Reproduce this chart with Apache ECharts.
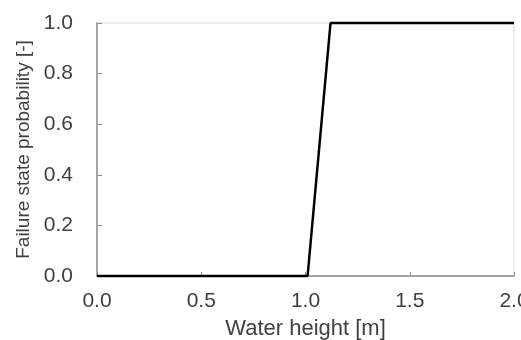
<!DOCTYPE html>
<html>
<head>
<meta charset="utf-8">
<script src="https://cdn.jsdelivr.net/npm/echarts@6/dist/echarts.min.js"></script>
<style>html,body{margin:0;padding:0;background:#fff}#c{width:521px;height:340px}</style>
</head>
<body>
<div id="c"></div>
<script>
const waterHeight = [0, 1.01, 1.12, 2.0];
const failureProb = [0, 0, 1, 1];
const xTicks = [0, 0.5, 1.0, 1.5, 2.0];
const yTicks = [0, 0.2, 0.4, 0.6, 0.8, 1.0];
const xTitle = 'Water height [m]';
const yTitle = 'Failure state probability [-]';

const chart = echarts.init(document.getElementById('c'), null, {renderer: 'canvas'});
const font = 'Liberation Sans, Arial, sans-serif';
chart.setOption({
  animation: false,
  backgroundColor: '#fff',
  grid: {left: 97, right: 7, top: 23, bottom: 64, show: true, borderColor: '#dcdcdc', borderWidth: 1,
         containLabel: false, outerBoundsMode: 'none'},
  xAxis: {
    type: 'value', min: xTicks[0], max: xTicks[xTicks.length - 1], interval: 0.5,
    name: xTitle, nameLocation: 'middle', nameGap: 42,
    nameTextStyle: {fontFamily: font, fontSize: 22, color: '#404040'},
    axisLine: {lineStyle: {color: '#8c8c8c', width: 1.5}},
    axisTick: {inside: true, length: 4, lineStyle: {color: '#8c8c8c'}},
    axisLabel: {fontFamily: font, fontSize: 21, color: '#404040', margin: 15, formatter: v => v.toFixed(1)},
    splitLine: {show: false}
  },
  yAxis: {
    type: 'value', min: yTicks[0], max: yTicks[yTicks.length - 1], interval: 0.2,
    name: yTitle, nameLocation: 'middle', nameGap: 61,
    nameTextStyle: {fontFamily: font, fontSize: 19, color: '#404040'},
    axisLine: {show: true, lineStyle: {color: '#8c8c8c', width: 1.5}},
    axisTick: {show: true, inside: true, length: 5, lineStyle: {color: '#8c8c8c'}},
    axisLabel: {fontFamily: font, fontSize: 21, color: '#404040', margin: 24, formatter: v => v.toFixed(1)},
    splitLine: {show: false}
  },
  series: [{
    type: 'line',
    data: waterHeight.map((x, i) => [x, failureProb[i]]),
    symbol: 'none',
    lineStyle: {color: '#000', width: 2.5},
    clip: false
  }]
});
</script>
</body>
</html>
